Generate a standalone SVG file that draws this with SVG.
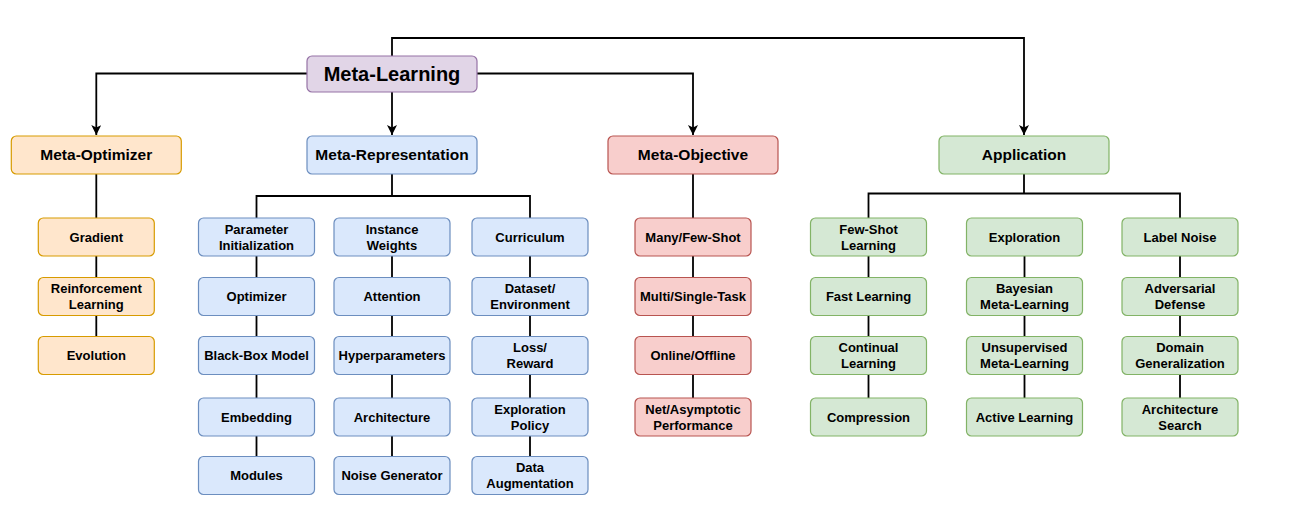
<svg xmlns="http://www.w3.org/2000/svg" width="1297" height="521" viewBox="0 0 1297 521">
<style>
rect{stroke-width:1.2}
.o rect{fill:#ffe6cc;stroke:#d79b00}
.b rect{fill:#dae8fc;stroke:#6c8ebf}
.r rect{fill:#f8cecc;stroke:#b85450}
.g rect{fill:#d5e8d4;stroke:#82b366}
.p rect{fill:#e1d5e7;stroke:#9673a6}
text{font-family:"Liberation Sans",Arial,Helvetica,sans-serif;font-weight:bold;fill:#000;text-anchor:middle}
.t text{font-size:15.5px}
.c text{font-size:13px}
.root text{font-size:20px}
#connectors path{fill:none;stroke:#000;stroke-width:1.8}
</style>
<defs>
<marker id="arr" viewBox="0 0 10 10" refX="10" refY="5" markerWidth="10" markerHeight="10" markerUnits="userSpaceOnUse" orient="auto">
<path d="M0,0 L10,5 L0,10 L2.5,5 Z" fill="#000"/>
</marker>
</defs>
<rect width="1297" height="521" fill="#fff"/>
<g id="connectors">
<path d="M307,73.5 H96.3 V135" marker-end="url(#arr)"/>
<path d="M392,92 V135" marker-end="url(#arr)"/>
<path d="M477,73.5 H693 V135" marker-end="url(#arr)"/>
<path d="M392,56 V38 H1024 V135" marker-end="url(#arr)"/>
<path d="M96.3,174 V218 M96.3,256 V277.5 M96.3,315.5 V336.5"/>
<path d="M392,174 V196 M256.5,218 V196 H530 V218"/>
<path d="M256.5,256 V277.5 M256.5,315.5 V336.5 M256.5,374.5 V398 M256.5,436 V456.5"/>
<path d="M392,256 V277.5 M392,315.5 V336.5 M392,374.5 V398 M392,436 V456.5"/>
<path d="M530,256 V277.5 M530,315.5 V336.5 M530,374.5 V398 M530,436 V456.5"/>
<path d="M693,174 V218 M693,256 V277.5 M693,315.5 V336.5 M693,374.5 V398"/>
<path d="M1024,174 V193.5 M868.5,218 V193.5 H1180 V218"/>
<path d="M868.5,256 V277.5 M868.5,315.5 V336.5 M868.5,374.5 V398"/>
<path d="M1024.5,256 V277.5 M1024.5,315.5 V336.5 M1024.5,374.5 V398"/>
<path d="M1180,256 V277.5 M1180,315.5 V336.5 M1180,374.5 V398"/>
</g>
<g id="meta-learning" class="p root"><rect x="307" y="56" width="170" height="36" rx="5"/><text x="392" y="81">Meta-Learning</text></g>
<g id="meta-optimizer" class="o t"><rect x="11.3" y="136" width="170" height="38" rx="5"/><text x="96.3" y="160.4">Meta-Optimizer</text></g>
<g id="meta-representation" class="b t"><rect x="307" y="136" width="170" height="38" rx="5"/><text x="392" y="160.4">Meta-Representation</text></g>
<g id="meta-objective" class="r t"><rect x="608" y="136" width="170" height="38" rx="5"/><text x="693" y="160.4">Meta-Objective</text></g>
<g id="application" class="g t"><rect x="939" y="136" width="170" height="38" rx="5"/><text x="1024" y="160.4">Application</text></g>

<g id="gradient" class="o c"><rect x="38.3" y="218" width="116" height="38" rx="5"/><text x="96.3" y="241.6">Gradient</text></g>
<g id="reinforcement-learning" class="o c"><rect x="38.3" y="277.5" width="116" height="38" rx="5"/><text x="96.3" y="293.3">Reinforcement</text><text x="96.3" y="309">Learning</text></g>
<g id="evolution" class="o c"><rect x="38.3" y="336.5" width="116" height="38" rx="5"/><text x="96.3" y="360.1">Evolution</text></g>

<g id="parameter-initialization" class="b c"><rect x="198.5" y="218" width="116" height="38" rx="5"/><text x="256.5" y="233.8">Parameter</text><text x="256.5" y="249.5">Initialization</text></g>
<g id="optimizer" class="b c"><rect x="198.5" y="277.5" width="116" height="38" rx="5"/><text x="256.5" y="301.1">Optimizer</text></g>
<g id="black-box-model" class="b c"><rect x="198.5" y="336.5" width="116" height="38" rx="5"/><text x="256.5" y="360.1">Black-Box Model</text></g>
<g id="embedding" class="b c"><rect x="198.5" y="398" width="116" height="38" rx="5"/><text x="256.5" y="421.6">Embedding</text></g>
<g id="modules" class="b c"><rect x="198.5" y="456.5" width="116" height="38" rx="5"/><text x="256.5" y="480.1">Modules</text></g>

<g id="instance-weights" class="b c"><rect x="334" y="218" width="116" height="38" rx="5"/><text x="392" y="233.8">Instance</text><text x="392" y="249.5">Weights</text></g>
<g id="attention" class="b c"><rect x="334" y="277.5" width="116" height="38" rx="5"/><text x="392" y="301.1">Attention</text></g>
<g id="hyperparameters" class="b c"><rect x="334" y="336.5" width="116" height="38" rx="5"/><text x="392" y="360.1">Hyperparameters</text></g>
<g id="architecture" class="b c"><rect x="334" y="398" width="116" height="38" rx="5"/><text x="392" y="421.6">Architecture</text></g>
<g id="noise-generator" class="b c"><rect x="334" y="456.5" width="116" height="38" rx="5"/><text x="392" y="480.1">Noise Generator</text></g>

<g id="curriculum" class="b c"><rect x="472" y="218" width="116" height="38" rx="5"/><text x="530" y="241.6">Curriculum</text></g>
<g id="dataset-environment" class="b c"><rect x="472" y="277.5" width="116" height="38" rx="5"/><text x="530" y="293.3">Dataset/</text><text x="530" y="309">Environment</text></g>
<g id="loss-reward" class="b c"><rect x="472" y="336.5" width="116" height="38" rx="5"/><text x="530" y="352.3">Loss/</text><text x="530" y="368">Reward</text></g>
<g id="exploration-policy" class="b c"><rect x="472" y="398" width="116" height="38" rx="5"/><text x="530" y="413.8">Exploration</text><text x="530" y="429.5">Policy</text></g>
<g id="data-augmentation" class="b c"><rect x="472" y="456.5" width="116" height="38" rx="5"/><text x="530" y="472.3">Data</text><text x="530" y="488">Augmentation</text></g>

<g id="many-few-shot" class="r c"><rect x="635" y="218" width="116" height="38" rx="5"/><text x="693" y="241.6">Many/Few-Shot</text></g>
<g id="multi-single-task" class="r c"><rect x="635" y="277.5" width="116" height="38" rx="5"/><text x="693" y="301.1">Multi/Single-Task</text></g>
<g id="online-offline" class="r c"><rect x="635" y="336.5" width="116" height="38" rx="5"/><text x="693" y="360.1">Online/Offline</text></g>
<g id="net-asymptotic" class="r c"><rect x="635" y="398" width="116" height="38" rx="5"/><text x="693" y="413.8">Net/Asymptotic</text><text x="693" y="429.5">Performance</text></g>

<g id="few-shot-learning" class="g c"><rect x="810.5" y="218" width="116" height="38" rx="5"/><text x="868.5" y="233.8">Few-Shot</text><text x="868.5" y="249.5">Learning</text></g>
<g id="fast-learning" class="g c"><rect x="810.5" y="277.5" width="116" height="38" rx="5"/><text x="868.5" y="301.1">Fast Learning</text></g>
<g id="continual-learning" class="g c"><rect x="810.5" y="336.5" width="116" height="38" rx="5"/><text x="868.5" y="352.3">Continual</text><text x="868.5" y="368">Learning</text></g>
<g id="compression" class="g c"><rect x="810.5" y="398" width="116" height="38" rx="5"/><text x="868.5" y="421.6">Compression</text></g>

<g id="exploration" class="g c"><rect x="966.5" y="218" width="116" height="38" rx="5"/><text x="1024.5" y="241.6">Exploration</text></g>
<g id="bayesian-meta-learning" class="g c"><rect x="966.5" y="277.5" width="116" height="38" rx="5"/><text x="1024.5" y="293.3">Bayesian</text><text x="1024.5" y="309">Meta-Learning</text></g>
<g id="unsupervised-meta-learning" class="g c"><rect x="966.5" y="336.5" width="116" height="38" rx="5"/><text x="1024.5" y="352.3">Unsupervised</text><text x="1024.5" y="368">Meta-Learning</text></g>
<g id="active-learning" class="g c"><rect x="966.5" y="398" width="116" height="38" rx="5"/><text x="1024.5" y="421.6">Active Learning</text></g>

<g id="label-noise" class="g c"><rect x="1122" y="218" width="116" height="38" rx="5"/><text x="1180" y="241.6">Label Noise</text></g>
<g id="adversarial-defense" class="g c"><rect x="1122" y="277.5" width="116" height="38" rx="5"/><text x="1180" y="293.3">Adversarial</text><text x="1180" y="309">Defense</text></g>
<g id="domain-generalization" class="g c"><rect x="1122" y="336.5" width="116" height="38" rx="5"/><text x="1180" y="352.3">Domain</text><text x="1180" y="368">Generalization</text></g>
<g id="architecture-search" class="g c"><rect x="1122" y="398" width="116" height="38" rx="5"/><text x="1180" y="413.8">Architecture</text><text x="1180" y="429.5">Search</text></g>
</svg>
